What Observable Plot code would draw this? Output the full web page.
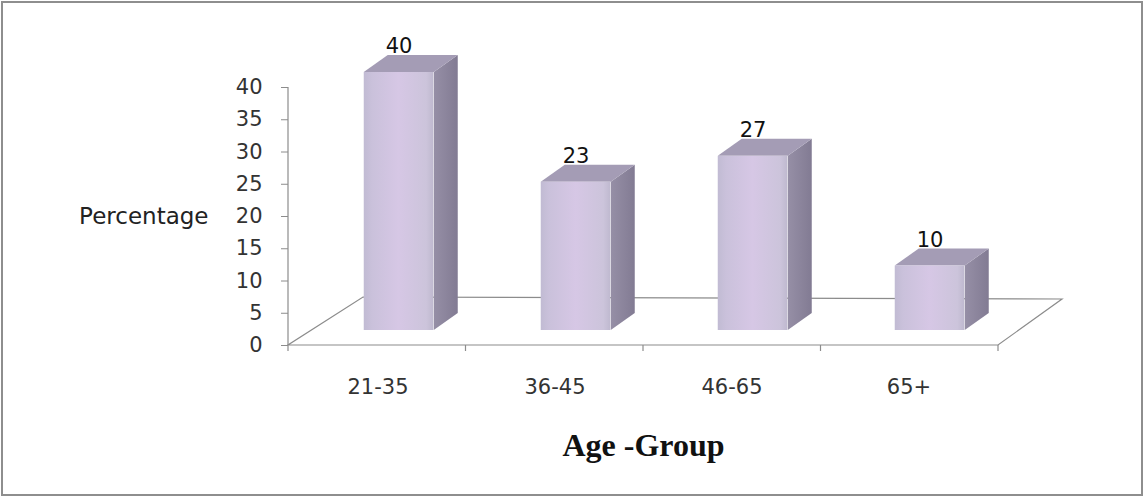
<!DOCTYPE html>
<html>
<head>
<meta charset="utf-8">
<script src="https://cdn.jsdelivr.net/npm/d3@7"></script>
<script src="https://cdn.jsdelivr.net/npm/@observablehq/plot@0.6"></script>
<style>
  body { margin: 0; background: #fff; }
  #chart svg { display: block; outline: 2px solid #8e8e8e; outline-offset: -3px; }
</style>
</head>
<body>
<div id="chart"></div>
<script>
// Survey respondents by age group (percent)
const ageGroups = ["21-35", "36-45", "46-65", "65+"];
const percentages = [40, 23, 27, 10];
const yTicks = [0, 5, 10, 15, 20, 25, 30, 35, 40];
const yTitle = "Percentage";
const xTitle = "Age -Group";

const rows = ageGroups.map((group, i) => ({group, pct: percentages[i]}));

// layout
const W = 1144, H = 497;
const M = {top: 87, right: 146, bottom: 152, left: 288};
const step = (W - M.left - M.right) / ageGroups.length;

// oblique 3-D look
const BAR_WIDTH = 70;
const BAR_SHIFT = [21, -15];     // front face of a column, relative to the floor's front edge
const BAR_DEPTH = [24, -17];     // column depth
const FLOOR_LEFT = [75, -48];    // floor depth at the left end
const FLOOR_RIGHT = [64, -46];   // floor depth at the right end
const LINE = "#8c8c8c";
const inset = (step - BAR_WIDTH) / 2;

// gradients for the column fronts and sides
function gradients() {
  const defs = d3.create("svg:defs");
  const g = defs.append("linearGradient").attr("id", "columnFace")
    .attr("x1", 0).attr("x2", 1).attr("y1", 0).attr("y2", 0);
  g.append("stop").attr("offset", "0%").attr("stop-color", "#c1bbd3");
  g.append("stop").attr("offset", "12%").attr("stop-color", "#cac1db");
  g.append("stop").attr("offset", "50%").attr("stop-color", "#d6c7e5");
  g.append("stop").attr("offset", "90%").attr("stop-color", "#ccc4db");
  g.append("stop").attr("offset", "100%").attr("stop-color", "#bfb9cf");
  const s = defs.append("linearGradient").attr("id", "columnSide")
    .attr("x1", 0).attr("x2", 1).attr("y1", 0).attr("y2", 0);
  s.append("stop").attr("offset", "0%").attr("stop-color", "#968fa6");
  s.append("stop").attr("offset", "100%").attr("stop-color", "#827b93");
  return defs.node();
}

// floor outline, value-axis line and category boundary ticks
function floor(index, {y}, values, dim) {
  const x0 = dim.marginLeft, x1 = dim.width - dim.marginRight, y0 = y(0);
  const g = d3.create("svg:g").attr("fill", "none").attr("stroke", LINE).attr("stroke-width", 1.2);
  g.append("path").attr("d",
    `M${x0},${y0}L${x1},${y0}L${x1 + FLOOR_RIGHT[0]},${y0 + FLOOR_RIGHT[1]}` +
    `L${x0 + FLOOR_LEFT[0]},${y0 + FLOOR_LEFT[1]}Z`);
  g.append("path").attr("d", `M${x0},${y0}V${y(d3.max(yTicks))}`);
  for (let i = 0; i <= ageGroups.length; ++i) {
    const xb = x0 + i * step;
    g.append("path").attr("d", `M${xb},${y0}v6`);
  }
  return g.node();
}

// side and top faces of each column
function columnFaces(index, {x, y}) {
  const g = d3.create("svg:g");
  const [dx, dy] = BAR_DEPTH;
  for (const d of rows) {
    const xl = x(d.group) + inset + BAR_SHIFT[0];
    const xr = xl + BAR_WIDTH;
    const yt = y(d.pct) + BAR_SHIFT[1];
    const yb = y(0) + BAR_SHIFT[1];
    g.append("path").attr("fill", "url(#columnSide)")
      .attr("d", `M${xr},${yt}L${xr + dx},${yt + dy}L${xr + dx},${yb + dy}L${xr},${yb}Z`);
    g.append("path").attr("fill", "#a49cb5")
      .attr("d", `M${xl},${yt}L${xr},${yt}L${xr + dx},${yt + dy}L${xl + dx},${yt + dy}Z`);
  }
  return g.node();
}

const chart = Plot.plot({
  width: W,
  height: H,
  marginTop: M.top,
  marginRight: M.right,
  marginBottom: M.bottom,
  marginLeft: M.left,
  style: {fontFamily: "'DejaVu Sans', sans-serif", color: "#333", background: "transparent"},
  x: {domain: ageGroups, padding: 0, label: null},
  y: {domain: [0, 40], label: null},
  marks: [
    gradients,
    floor,
    columnFaces,
    Plot.barY(rows, {
      x: "group", y: "pct",
      insetLeft: inset, insetRight: inset,
      dx: BAR_SHIFT[0], dy: BAR_SHIFT[1],
      fill: "url(#columnFace)"
    }),
    Plot.text(rows, {
      x: "group", y: "pct", text: "pct",
      dx: BAR_SHIFT[0], dy: -41,
      fontSize: 21, fill: "#111", lineAnchor: "middle"
    }),
    Plot.axisY(yTicks, {
      tickSize: 7, tickPadding: 19, fontSize: 21,
      stroke: LINE, fill: "#333", label: null
    }),
    Plot.axisX({
      tickSize: 0, tickPadding: 34, fontSize: 21, fill: "#333", label: null
    }),
    Plot.text([yTitle], {
      frameAnchor: "left", textAnchor: "end", dx: -80,
      fontSize: 23, fill: "#222", lineAnchor: "middle"
    }),
    Plot.text([xTitle], {
      frameAnchor: "bottom", dy: 100, lineAnchor: "middle",
      fontFamily: "'Liberation Serif', serif", fontWeight: "bold",
      fontSize: 32, fill: "#111"
    })
  ]
});

document.getElementById("chart").append(chart);
</script>
</body>
</html>
